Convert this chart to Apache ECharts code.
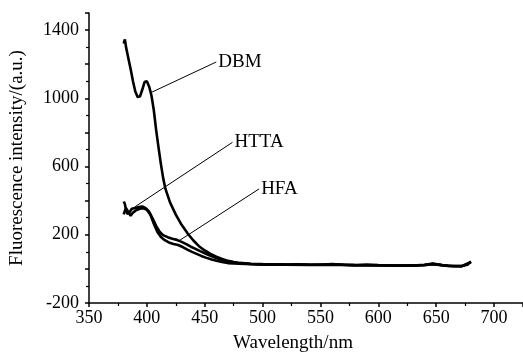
<!DOCTYPE html>
<html>
<head>
<meta charset="utf-8">
<script src="https://cdn.jsdelivr.net/npm/echarts@6/dist/echarts.min.js"></script>
<style>
  html, body { margin: 0; padding: 0; background: #fff; }
  #chart { width: 523px; height: 358px; }
</style>
</head>
<body>
<div id="chart"></div>
<script>
// wavelength (nm), intensity (a.u.)
const dbm = [
  [380, 1320], [381, 1345], [382, 1300], [384, 1235], [386, 1170], [388, 1100],
  [390, 1040], [392, 1008], [394, 1010], [396, 1050], [398, 1095], [400, 1100],
  [402, 1068], [404, 1015], [406, 930], [408, 815], [410, 715], [412, 620],
  [414, 535], [416, 470], [420, 390], [425, 318], [430, 258], [435, 210],
  [440, 168], [445, 133], [450, 108], [455, 88], [460, 72], [465, 58],
  [470, 47], [475, 40], [480, 35], [490, 30], [500, 28], [510, 27], [520, 25],
  [530, 27], [540, 25], [550, 24], [560, 28], [570, 24], [580, 22], [590, 25],
  [600, 22], [610, 21], [620, 20], [630, 19], [640, 24], [647, 31], [655, 22],
  [665, 16], [672, 17], [677, 24], [680, 44]
];
const htta = [
  [380, 395], [381, 380], [382, 345], [383, 322], [385, 332], [387, 352],
  [390, 357], [393, 362], [396, 366], [399, 356], [402, 335], [405, 295],
  [408, 252], [411, 218], [414, 198], [418, 186], [422, 177], [426, 170],
  [430, 158], [434, 145], [438, 130], [442, 117], [446, 104], [450, 92],
  [455, 77], [460, 63], [465, 52], [470, 44], [475, 38], [480, 33], [490, 29],
  [500, 27], [520, 25], [540, 24], [560, 26], [580, 22], [600, 21], [620, 19],
  [640, 23], [647, 29], [660, 18], [672, 16], [680, 40]
];
const hfa = [
  [380, 320], [381, 340], [382, 356], [384, 332], [386, 312], [388, 330],
  [391, 345], [394, 352], [397, 356], [400, 346], [403, 318], [406, 265],
  [409, 218], [412, 188], [415, 170], [419, 155], [423, 146], [427, 140],
  [431, 128], [435, 113], [439, 100], [443, 88], [447, 76], [451, 66],
  [456, 55], [461, 46], [466, 39], [470, 34], [480, 30], [490, 27], [500, 25],
  [520, 24], [540, 23], [560, 25], [580, 21], [600, 20], [620, 18], [640, 22],
  [647, 28], [660, 17], [672, 15], [680, 38]
];

// curve labels: text, where the text sits, where its pointer touches the curve
const labelNames = ["DBM", "HTTA", "HFA"];
const labelAt = [[460, 1213], [474, 742], [497, 469]];
const pointTo = [[403.4, 1033], [389.7, 364], [426.7, 160]];

// y tick labels are printed every 400, ticks every 200
const yLabelStep = 400;

const xMin = 350, xMax = 725, xStep = 50;
const yMin = -200, yMax = 1500, yStep = 200;

const font = "'Liberation Serif', 'DejaVu Serif', serif";

const chart = echarts.init(document.getElementById("chart"), null, { renderer: "canvas" });

const curve = (name, data) => ({
  type: "line",
  name: name,
  data: data,
  showSymbol: false,
  smooth: false,
  lineStyle: { color: "#000", width: 2.6 },
  emphasis: { disabled: true },
  z: 3
});

chart.setOption({
  animation: false,
  backgroundColor: "#fff",
  grid: { left: 89, right: 0, top: 13, bottom: 53 },
  xAxis: {
    type: "value",
    min: xMin,
    max: xMax,
    interval: xStep,
    name: "Wavelength/nm",
    nameLocation: "middle",
    nameGap: 31,
    nameTextStyle: { fontFamily: font, fontSize: 19, color: "#000", padding: [0, 26, 0, 0] },
    axisLine: { onZero: false, lineStyle: { color: "#000", width: 1.5 } },
    axisTick: { length: 4, lineStyle: { color: "#000", width: 1.5 } },
    minorTick: { show: true, splitNumber: 2, length: 3, lineStyle: { color: "#000", width: 1.2 } },
    axisLabel: {
      fontFamily: font, fontSize: 18, color: "#000", margin: 6, showMaxLabel: false,
      formatter: (v) => String(v)
    },
    splitLine: { show: false }
  },
  yAxis: {
    type: "value",
    min: yMin,
    max: yMax,
    interval: yStep,
    name: "Fluorescence intensity/(a.u.)",
    nameLocation: "middle",
    nameGap: 62,
    nameTextStyle: { fontFamily: font, fontSize: 19, color: "#000" },
    axisLine: { show: true, onZero: false, lineStyle: { color: "#000", width: 1.5 } },
    axisTick: { length: 4, lineStyle: { color: "#000", width: 1.5 } },
    minorTick: { show: true, splitNumber: 2, length: 3, lineStyle: { color: "#000", width: 1.2 } },
    axisLabel: {
      fontFamily: font, fontSize: 18, color: "#000", margin: 10, showMaxLabel: false,
      formatter: (v) => ((v - yMin) % yLabelStep === 0 ? String(v) : "")
    },
    splitLine: { show: false }
  },
  series: [
    curve("DBM", dbm),
    curve("HTTA", htta),
    curve("HFA", hfa),
    {
      type: "line",
      name: "pointers",
      data: [],
      silent: true,
      markLine: {
        symbol: "none",
        silent: true,
        animation: false,
        label: { show: false },
        lineStyle: { color: "#000", width: 1, type: "solid" },
        data: labelAt.map((p, i) => [{ coord: p }, { coord: pointTo[i] }])
      },
      markPoint: {
        symbol: "circle",
        symbolSize: 0,
        silent: true,
        animation: false,
        label: {
          show: true,
          position: "right",
          distance: 2,
          fontFamily: font,
          fontSize: 19,
          color: "#000",
          formatter: (p) => p.name
        },
        data: labelAt.map((p, i) => ({ name: labelNames[i], coord: p }))
      }
    }
  ]
});
</script>
</body>
</html>
